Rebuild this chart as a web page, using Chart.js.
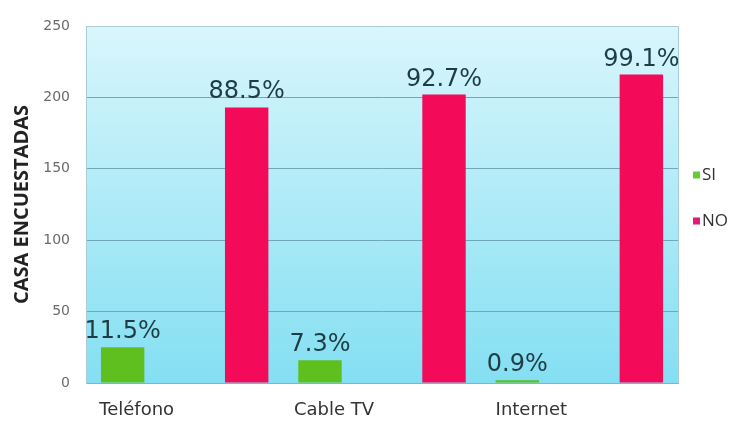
<!DOCTYPE html>
<html>
<head>
<meta charset="utf-8">
<title>Casas encuestadas</title>
<script src="https://cdn.jsdelivr.net/npm/chart.js@4.4.1/dist/chart.umd.min.js"></script>
<style>
  html, body { margin: 0; padding: 0; background: #fff; }
  #wrap { position: relative; width: 744px; height: 423px; }
</style>
</head>
<body>
<div id="wrap"><canvas id="chart" width="744" height="423"></canvas></div>
<script>
// ── servicios por vivienda ──
const categories = ['Teléfono', 'Cable TV', 'Internet']
const siValues   = [25, 16, 2]
const noValues   = [193, 202, 216]
const yTicks     = [0, 50, 100, 150, 200, 250]

const GREEN = '#5fbf1f'
const PINK  = '#f30a58'

// percentage of each answer over the households of the same service
const pct = (v, i) => (v / (siValues[i] + noValues[i]) * 100).toFixed(1) + '%'

const plotBg = {
  id: 'plotBg',
  beforeDraw(chart) {
    const { ctx, chartArea: a } = chart
    const g = ctx.createLinearGradient(0, a.top, 0, a.bottom)
    g.addColorStop(0, '#d9f6fc')
    g.addColorStop(1, '#84dff2')
    ctx.save()
    ctx.fillStyle = g
    ctx.fillRect(a.left, a.top, a.right - a.left, a.bottom - a.top)
    ctx.restore()
  },
  afterDraw(chart) {
    const { ctx, chartArea: a } = chart
    ctx.save()
    ctx.strokeStyle = '#a9ccd6'
    ctx.lineWidth = 1
    ctx.beginPath()
    ctx.moveTo(a.left, a.top + 0.5); ctx.lineTo(a.right + 0.5, a.top + 0.5); ctx.lineTo(a.right + 0.5, a.bottom)
    ctx.stroke()
    ctx.restore()
  }
}

const barLabels = {
  id: 'barLabels',
  afterDatasetsDraw(chart) {
    const { ctx } = chart
    ctx.save()
    ctx.font = '24px "DejaVu Sans"'
    ctx.fillStyle = '#1e3c44'
    ctx.textAlign = 'center'
    ctx.textBaseline = 'alphabetic'
    chart.data.datasets.forEach((ds, di) => {
      chart.getDatasetMeta(di).data.forEach((bar, i) => {
        ctx.fillText(pct(ds.data[i], i), bar.x, bar.y - 9)
      })
    })
    ctx.restore()
  }
}

const sideLegend = {
  id: 'sideLegend',
  afterDraw(chart) {
    const { ctx } = chart
    ctx.save()
    ctx.font = '17px "Open Sans"'
    ctx.textBaseline = 'middle'
    chart.data.datasets.forEach((ds, i) => {
      const y = 175 + i * 46
      ctx.fillStyle = ds.legendColor
      ctx.fillRect(693, y - 3.5, 7, 7)
      ctx.fillStyle = '#333'
      ctx.fillText(ds.label, 702, y)
    })
    ctx.restore()
  }
}

new Chart(document.getElementById('chart'), {
  type: 'bar',
  data: {
    labels: categories,
    datasets: [
      { label: 'SI', data: siValues, backgroundColor: GREEN, legendColor: '#66cc33' },
      { label: 'NO', data: noValues, backgroundColor: PINK,  legendColor: '#e6187a' },
    ]
  },
  options: {
    responsive: false, animation: false,
    devicePixelRatio: 1,
    layout: { padding: { top: 26, right: 66, bottom: 0, left: 0 } },
    datasets: { bar: { categoryPercentage: 1.257, barPercentage: 0.35 } },
    plugins: { legend: { display: false }, tooltip: { enabled: false } },
    scales: {
      x: {
        grid: { display: false },
        border: { display: true, color: '#7fb6c4' },
        ticks: { color: '#333', font: { family: 'DejaVu Sans', size: 18 }, padding: 9, labelOffset: -48 },
        afterFit: s => { s.height = 40 },
      },
      y: {
        min: 0, max: 250,
        afterBuildTicks: s => { s.ticks = yTicks.map(v => ({ value: v })) },
        grid: { color: '#6fa8b7', drawTicks: false },
        border: { display: true, color: '#a9ccd6' },
        ticks: { color: '#6a6a6a', font: { family: 'DejaVu Sans', size: 14 }, padding: 16 },
        title: {
          display: true, text: 'CASA ENCUESTADAS', color: '#222',
          font: { family: 'Open Sans', size: 20, weight: 'bold' }, padding: { top: 10, bottom: 0 }
        },
        afterFit: s => { s.width = 86 },
      },
    },
  },
  plugins: [plotBg, barLabels, sideLegend],
})
</script>
</body>
</html>
